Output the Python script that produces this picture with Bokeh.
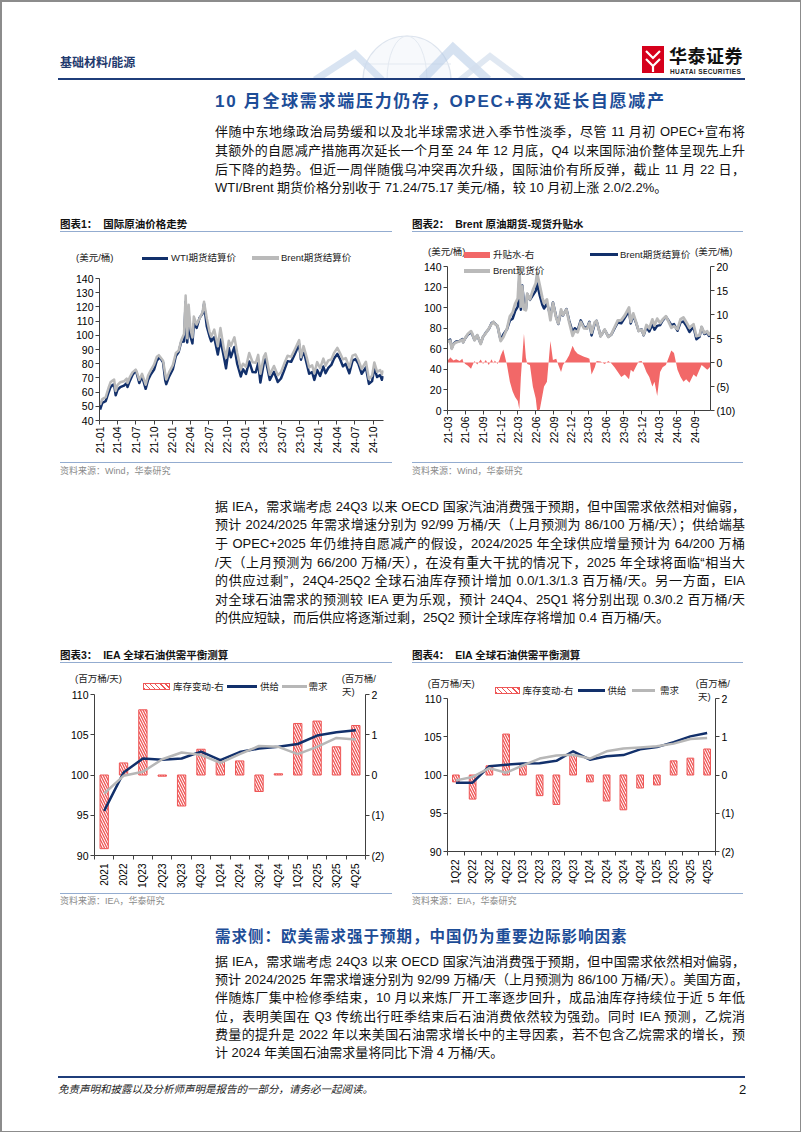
import pandas as pd
from math import pi
from bokeh.plotting import figure
from bokeh.models import (Range1d, LinearAxis, FixedTicker, DatetimeTickFormatter, Div,
                          ColumnDataSource)
from bokeh.layouts import column, row
from bokeh.embed import file_html
from bokeh.resources import INLINE

# ---------------------------------------------------------------- data
price_dates = [
    "2021-01-04", "2021-01-15", "2021-02-01", "2021-02-16", "2021-02-25", "2021-03-08", "2021-03-15",
    "2021-03-23", "2021-04-01", "2021-04-15", "2021-05-03", "2021-05-17", "2021-05-21", "2021-06-01",
    "2021-06-15", "2021-07-01", "2021-07-06", "2021-07-19", "2021-08-02", "2021-08-20", "2021-09-01",
    "2021-09-15", "2021-10-01", "2021-10-15", "2021-10-25", "2021-11-01", "2021-11-15", "2021-11-26",
    "2021-12-01", "2021-12-15",
    "2022-01-03", "2022-01-18", "2022-02-01", "2022-02-14", "2022-02-28", "2022-03-08", "2022-03-16",
    "2022-03-23", "2022-04-01", "2022-04-11", "2022-04-18", "2022-05-02", "2022-05-17", "2022-06-01",
    "2022-06-08", "2022-06-22", "2022-07-05", "2022-07-14", "2022-07-29", "2022-08-16", "2022-08-29",
    "2022-09-15", "2022-09-26", "2022-10-10", "2022-10-20", "2022-11-07", "2022-11-21", "2022-12-09",
    "2022-12-20",
    "2023-01-04", "2023-01-20", "2023-02-06", "2023-02-22", "2023-03-06", "2023-03-17", "2023-04-03",
    "2023-04-12", "2023-05-03", "2023-05-24", "2023-06-12", "2023-06-28", "2023-07-14", "2023-07-31",
    "2023-08-18", "2023-09-05", "2023-09-27", "2023-10-06", "2023-10-19", "2023-11-03", "2023-11-16",
    "2023-12-01", "2023-12-12", "2023-12-26",
    "2024-01-10", "2024-01-26", "2024-02-06", "2024-02-20", "2024-03-06", "2024-03-19", "2024-04-05",
    "2024-04-19", "2024-05-03", "2024-05-17", "2024-06-04", "2024-06-20", "2024-07-05", "2024-07-19",
    "2024-08-05", "2024-08-26", "2024-09-10", "2024-09-26", "2024-10-07", "2024-10-21", "2024-11-05",
    "2024-11-14", "2024-11-22",
]
wti = [
    47.6, 52.4, 53.6, 60.1, 63.5, 65.0, 65.4, 57.8, 61.5, 63.5, 64.5, 66.3, 63.6, 67.7, 72.1, 75.2,
    73.4, 66.4, 71.3, 62.3, 68.6, 72.6, 75.9, 82.3, 83.8, 84.1, 80.9, 68.2, 65.6, 70.9,
    76.1, 85.4, 88.2, 95.5, 95.7, 123.7, 95.0, 114.9, 99.3, 94.3, 108.2, 105.2, 112.4, 115.3, 122.1,
    106.2, 99.5, 95.8, 98.6, 86.5, 97.0, 85.1, 76.7, 91.1, 84.5, 91.8, 80.0, 71.0, 76.2,
    72.8, 81.6, 74.1, 74.0, 80.5, 66.7, 80.4, 83.3, 68.6, 74.3, 67.1, 69.6, 75.4, 81.8, 81.3, 86.7,
    93.7, 82.8, 89.4, 80.5, 72.9, 74.1, 68.6, 75.6,
    71.4, 78.0, 73.3, 77.0, 79.1, 83.5, 86.9, 83.1, 78.1, 79.9, 73.3, 82.2, 83.2, 80.1, 72.9, 77.4,
    65.8, 67.7, 77.1, 70.6, 72.0, 68.7, 71.24,
]
brent = [
    51.1, 55.1, 56.4, 63.3, 66.9, 68.2, 68.9, 60.8, 64.9, 67.0, 67.6, 69.5, 66.4, 70.3, 73.9, 75.8,
    74.5, 68.6, 72.9, 65.2, 71.6, 75.5, 79.3, 84.9, 86.0, 84.7, 82.1, 72.7, 68.9, 73.9,
    79.0, 87.5, 89.2, 96.5, 101.0, 128.0, 98.0, 121.6, 104.4, 98.5, 113.2, 107.6, 112.0, 116.3, 123.6,
    111.7, 102.8, 99.1, 104.0, 92.3, 105.1, 90.8, 84.1, 96.2, 92.4, 98.6, 87.5, 76.1, 80.0,
    77.8, 87.6, 81.0, 80.6, 86.2, 73.0, 84.9, 87.3, 72.3, 78.4, 71.8, 74.0, 79.9, 85.6, 84.8, 90.0,
    96.6, 84.6, 92.4, 84.9, 77.4, 78.9, 73.2, 81.1,
    76.8, 83.6, 78.6, 82.3, 83.0, 87.4, 91.2, 87.3, 83.0, 84.0, 77.5, 85.7, 86.5, 82.6, 76.3, 81.4,
    69.2, 71.6, 80.9, 74.3, 75.5, 72.6, 75.17,
]
# Brent futures minus spot (right axis of chart 2)
brent_spread = [
    0.3, 0.5, 0.4, 0.8, 0.6, 0.6, 1.1, 0.8, 0.4, 0.7, 0.3, 0.8, 0.2, -0.3, -0.7, -1.3,
    -0.8, 0.3, -0.4, 0.6, -0.3, 0.5, -0.5, 0.7, -0.2, 0.4, -0.3, 0.6, 1.4, 2.7,
    -0.5, -4.0, -6.0, -7.2, -8.0, -9.8, -3.0, 1.0, 6.0, 1.0, -0.3, -0.5, -5.0, -7.5, -10.0,
    -9.8, -7.0, -5.0, -4.0, 4.5, 0.5, 0.8, -0.5, -2.0, -0.5, 0.5, 1.5, 3.5, 2.5,
    1.8, 1.5, 1.2, 1.0, 0.8, -2.5, -1.0, 0.3, 0.2, -0.3, 0.3, -0.2, -1.0, -2.0, -3.0, -2.5,
    -3.5, -1.5, -2.0, -0.8, 0.2, 0.3, -0.5, -2.0,
    -3.0, -5.0, -4.0, -7.0, -2.0, -1.0, -0.5, 1.0, 2.5, 2.0, -1.5, -3.0, -4.0, -3.5, -4.2, -2.5,
    -3.0, -1.5, -0.5, -1.0, -1.5, -1.2, -0.8,
]
brent_spot = [f - s for f, s in zip(brent, brent_spread)]

iea_cats = ["2021", "2022", "1Q23", "2Q23", "3Q23", "4Q23", "1Q24", "2Q24", "3Q24", "4Q24",
            "1Q25", "2Q25", "3Q25", "4Q25"]
iea_stock = [-1.83, 0.30, 1.62, -0.03, -0.77, 0.64, 0.35, 0.35, -0.41, 0.03, 1.28, 1.34, 0.70, 1.23]
iea_supply = [95.55, 100.3, 102.05, 101.9, 102.05, 102.9, 101.85, 102.85, 103.3, 103.5, 103.85,
              104.9, 105.3, 105.55]
iea_demand = [97.7, 99.9, 100.4, 101.95, 102.8, 102.5, 101.5, 102.6, 103.6, 103.5, 102.6, 103.5,
              104.6, 104.4]

eia_cats = ["1Q22", "2Q22", "3Q22", "4Q22", "1Q23", "2Q23", "3Q23", "4Q23", "1Q24", "2Q24", "3Q24",
            "4Q24", "1Q25", "2Q25", "3Q25", "4Q25"]
eia_stock = [-0.18, -0.63, 0.24, 1.07, 0.25, -0.54, -0.77, 0.52, -0.18, -0.68, -0.91, -0.34, -0.26,
             0.37, 0.44, 0.68]
eia_supply = [99.0, 99.0, 101.15, 101.35, 101.5, 101.55, 101.85, 103.1, 102.0, 102.45, 102.6, 103.35,
              103.65, 104.3, 105.05, 105.5]
eia_demand = [99.3, 99.75, 100.9, 100.3, 101.25, 102.15, 102.55, 102.65, 102.15, 103.1, 103.45,
              103.6, 103.75, 104.1, 104.7, 104.85]

# ---------------------------------------------------------------- style
NAVY = "#12306b"
GRAY = "#bababa"
GRAY2 = "#b7b7b7"
RED = "#ee5656"
RED_AREA = "#f26868"
AXIS = "#404040"
NUM = "Liberation Sans"
BODY = "'Liberation Sans','Noto Sans CJK SC',sans-serif"
BLUE = "#1d4d97"
DARK = "#1f3d7a"
RULE = "#93acd0"
PAGE_W = 801


def base_fig(w, h, bl, br, bt, bb, **kw):
    p = figure(width=w, height=h, output_backend="svg", toolbar_location=None,
               min_border_left=bl, min_border_right=br, min_border_top=bt, min_border_bottom=bb, **kw)
    p.outline_line_color = None
    p.xgrid.grid_line_color = None
    p.ygrid.grid_line_color = None
    p.background_fill_alpha = 0
    p.border_fill_alpha = 0
    return p


def style_axis(ax, size="10.5px"):
    ax.axis_line_color = AXIS
    ax.axis_line_width = 1
    ax.major_tick_line_color = AXIS
    ax.major_tick_out = 4
    ax.major_tick_in = 0
    ax.minor_tick_line_color = None
    ax.major_label_text_font = NUM
    ax.major_label_text_font_size = size
    ax.major_label_text_color = "#000000"
    ax.major_label_standoff = 2


def date_ticks(start, end):
    return [int(t.value // 10**6) for t in pd.date_range(start, end, freq="3MS")]


fmt = dict(microseconds="%y-%m", milliseconds="%y-%m", seconds="%y-%m", minsec="%y-%m",
           minutes="%y-%m", hourmin="%y-%m", hours="%y-%m", days="%y-%m", months="%y-%m",
           years="%y-%m")

src = ColumnDataSource(dict(x=pd.to_datetime(price_dates), wti=wti, brent=brent,
                            spread=brent_spread, spot=brent_spot))

# ---------------------------------------------------------------- chart 1  (page y 240..458)
p1 = base_fig(400, 218, 99, 17, 38, 38, x_axis_type="datetime",
              x_range=Range1d(pd.Timestamp("2021-01-01"), pd.Timestamp("2024-11-22")),
              y_range=Range1d(40, 140))
p1.line("x", "wti", source=src, line_color=NAVY, line_width=2.5, line_join="round")
p1.line("x", "brent", source=src, line_color=GRAY, line_width=2.5, line_join="round")
p1.xaxis.ticker = FixedTicker(ticks=date_ticks("2021-01-01", "2024-10-01"))
p1.xaxis.formatter = DatetimeTickFormatter(**fmt)
p1.yaxis.ticker = FixedTicker(ticks=list(range(40, 141, 10)))
for ax in p1.xaxis + p1.yaxis:
    style_axis(ax)
p1.xaxis.major_label_orientation = pi / 2

# ---------------------------------------------------------------- chart 2
p2 = base_fig(PAGE_W - 400, 218, 47, PAGE_W - 710, 26, 48, x_axis_type="datetime",
              x_range=Range1d(pd.Timestamp("2021-03-01"), pd.Timestamp("2024-11-22")),
              y_range=Range1d(0, 140))
p2.extra_y_ranges = {"right": Range1d(-10, 20)}
p2.varea(x="x", y1=0, y2="spread", source=src, y_range_name="right",
         fill_color=RED_AREA, fill_alpha=1)
p2.line("x", "brent", source=src, line_color=NAVY, line_width=2.5, line_join="round")
p2.line("x", "spot", source=src, line_color=GRAY, line_width=2.8, line_join="round")
p2.xaxis.ticker = FixedTicker(ticks=date_ticks("2021-03-01", "2024-09-01"))
p2.xaxis.formatter = DatetimeTickFormatter(**fmt)
p2.yaxis.ticker = FixedTicker(ticks=list(range(0, 141, 20)))
rax2 = LinearAxis(y_range_name="right", ticker=FixedTicker(ticks=[-10, -5, 0, 5, 10, 15, 20]))
rax2.major_label_overrides = {-10: "(10)", -5: "(5)"}
p2.add_layout(rax2, "right")
for ax in p2.xaxis + p2.yaxis:
    style_axis(ax)
p2.xaxis.major_label_orientation = pi / 2


# ---------------------------------------------------------------- charts 3/4 (page y 668..890)
def balance_chart(w, h, bl, br, bt, bb, cats, stock, supply, demand, bar_w):
    xs = [i + 0.5 for i in range(len(cats))]
    p = base_fig(w, h, bl, br, bt, bb, x_range=Range1d(0, len(cats)), y_range=Range1d(90, 110))
    p.extra_y_ranges = {"right": Range1d(-2, 2)}
    p.vbar(x=xs, top=stock, bottom=0, width=bar_w, y_range_name="right",
           fill_color="white", line_color=RED, line_width=1,
           hatch_pattern="left_diagonal_line", hatch_color=RED, hatch_scale=5, hatch_weight=1.3)
    p.line(xs, supply, line_color=NAVY, line_width=2.5, line_join="round")
    p.line(xs, demand, line_color=GRAY2, line_width=2.5, line_join="round")
    p.xaxis.ticker = FixedTicker(ticks=xs, minor_ticks=list(range(0, len(cats) + 1)))
    p.xaxis.major_label_overrides = {x: c for x, c in zip(xs, cats)}
    p.yaxis.ticker = FixedTicker(ticks=[90, 95, 100, 105, 110])
    rax = LinearAxis(y_range_name="right", ticker=FixedTicker(ticks=[-2, -1, 0, 1, 2]))
    rax.major_label_overrides = {-2: "(2)", -1: "(1)"}
    p.add_layout(rax, "right")
    for ax in p.xaxis + p.yaxis:
        style_axis(ax)
    xa = p.xaxis[0]
    xa.major_tick_line_color = None
    xa.major_tick_out = 0
    xa.minor_tick_line_color = AXIS
    xa.minor_tick_out = 4
    xa.minor_tick_in = 0
    xa.major_label_standoff = 4
    xa.major_label_orientation = pi / 2
    xa.major_label_text_font_size = "10px"
    return p


p3 = balance_chart(400, 222, 94, 35, 26, 34, iea_cats, iea_stock, iea_supply, iea_demand, 0.43)
p4 = balance_chart(PAGE_W - 400, 222, 47, PAGE_W - 715, 30, 39, eia_cats, eia_stock, eia_supply,
                   eia_demand, 0.4)


# ---------------------------------------------------------------- page text (HTML)
def T(x, yc, text, size, oy, color="#1a1a1a", weight="normal", extra="", lh=None):
    lh = lh if lh else round(size * 1.45)
    top = yc - oy - lh / 2
    return (f'<div style="position:absolute;z-index:5;left:{x:.1f}px;top:{top:.1f}px;height:{lh}px;'
            f'line-height:{lh}px;font-size:{size}px;font-weight:{weight};color:{color};'
            f'font-family:{BODY};white-space:nowrap;{extra}">{text}</div>')


def BOX(x1, x2, y, th, oy, css):
    return (f'<div style="position:absolute;z-index:5;left:{x1:.1f}px;top:{y - oy - th / 2:.1f}px;'
            f'width:{x2 - x1:.1f}px;height:{th}px;{css}"></div>')


def HL(x1, x2, y, th, color, oy):
    return BOX(x1, x2, y, th, oy, f"background:{color};")


def VL(x, y1, y2, th, color, oy):
    return (f'<div style="position:absolute;z-index:6;left:{x:.1f}px;top:{y1 - oy:.1f}px;'
            f'width:{th}px;height:{y2 - y1:.1f}px;background:{color};"></div>')


def PARA(lines, ys, oy, x=215, width=530, size=13):
    out = []
    for i, (t, y) in enumerate(zip(lines, ys)):
        al = "left" if i == len(lines) - 1 else "justify"
        out.append(T(x, y, t, size, oy, color="#111111",
                     extra=f"width:{width}px;text-align:{al};text-align-last:{al};", lh=18))
    return "".join(out)


HATCH = (f"box-sizing:border-box;border:1px solid {RED};"
         f"background:repeating-linear-gradient(45deg,{RED} 0px,{RED} 1.2px,#ffffff 1.2px,#ffffff 3.6px);")


def LEG(x1, x2, yc, label, oy, css, th, lx):
    return BOX(x1, x2, yc, th, oy, css) + T(lx, yc, label, 9.5, oy, color="#222222")


def UNIT(x, yc, text, oy):
    return T(x, yc, text, 9.5, oy, color="#222222")


def DIV(html, h):
    return Div(text=f'<div style="position:relative;width:{PAGE_W}px;height:{h}px;overflow:visible;">'
                    f'{html}</div>', width=PAGE_W, height=h, margin=0,
               styles={"overflow": "visible", "z-index": "5"})


para1 = [
    "伴随中东地缘政治局势缓和以及北半球需求进入季节性淡季，尽管 11 月初 OPEC+宣布将",
    "其额外的自愿减产措施再次延长一个月至 24 年 12 月底，Q4 以来国际油价整体呈现先上升",
    "后下降的趋势。但近一周伴随俄乌冲突再次升级，国际油价有所反弹，截止 11 月 22 日，",
    "WTI/Brent 期货价格分别收于 71.24/75.17 美元/桶，较 10 月初上涨 2.0/2.2%。",
]
para2 = [
    "据 IEA，需求端考虑 24Q3 以来 OECD 国家汽油消费强于预期，但中国需求依然相对偏弱，",
    "预计 2024/2025 年需求增速分别为 92/99 万桶/天（上月预测为 86/100 万桶/天）；供给端基",
    "于 OPEC+2025 年仍维持自愿减产的假设，2024/2025 年全球供应增量预计为 64/200 万桶",
    "/天（上月预测为 66/200 万桶/天），在没有重大干扰的情况下，2025 年全球将面临“相当大",
    "的供应过剩”，24Q4-25Q2 全球石油库存预计增加 0.0/1.3/1.3 百万桶/天。另一方面，EIA",
    "对全球石油需求的预测较 IEA 更为乐观，预计 24Q4、25Q1 将分别出现 0.3/0.2 百万桶/天",
    "的供应短缺，而后供应将逐渐过剩，25Q2 预计全球库存将增加 0.4 百万桶/天。",
]
para3 = [
    "据 IEA，需求端考虑 24Q3 以来 OECD 国家汽油消费强于预期，但中国需求依然相对偏弱，",
    "预计 2024/2025 年需求增速分别为 92/99 万桶/天（上月预测为 86/100 万桶/天）。美国方面，",
    "伴随炼厂集中检修季结束，10 月以来炼厂开工率逐步回升，成品油库存持续位于近 5 年低",
    "位，表明美国在 Q3 传统出行旺季结束后石油消费依然较为强劲。同时 IEA 预测，乙烷消",
    "费量的提升是 2022 年以来美国石油需求增长中的主导因素，若不包含乙烷需求的增长，预",
    "计 2024 年美国石油需求量将同比下滑 4 万桶/天。",
]

# ---- top block: page y 0 .. 240
oy = 0
watermark = (
    '<svg style="position:absolute;left:300px;top:30px;" width="240" height="50" '
    'xmlns="http://www.w3.org/2000/svg">'
    '<circle cx="107" cy="50" r="44" fill="#f7f9fc" stroke="#dde4ee" stroke-width="1.2"/>'
    '<ellipse cx="107" cy="50" rx="20" ry="44" fill="none" stroke="#e3e9f1" stroke-width="1"/>'
    '<line x1="63" y1="34" x2="151" y2="34" stroke="#e3e9f1" stroke-width="1"/>'
    '<polyline points="15,50 55,24 82,50" fill="none" stroke="#c9d9ed" stroke-width="7" opacity="0.7"/>'
    '<polyline points="122,50 153,18 188,50" fill="none" stroke="#adc5e4" stroke-width="9" opacity="0.5"/>'
    '<polyline points="160,50 190,26 222,50" fill="none" stroke="#d3deed" stroke-width="6" opacity="0.7"/>'
    '</svg>'
)
logo = (
    '<svg style="position:absolute;left:642px;top:46px;" width="22" height="27" '
    'xmlns="http://www.w3.org/2000/svg">'
    '<rect x="0" y="0" width="22" height="27" fill="#d6001c"/>'
    '<polyline points="4,5 11,12 18,5" fill="none" stroke="white" stroke-width="2.2"/>'
    '<polyline points="4,13 11,20 18,13" fill="none" stroke="white" stroke-width="2.2"/>'
    '<line x1="11" y1="20" x2="11" y2="26" stroke="white" stroke-width="2.2"/>'
    '</svg>'
)
top_html = "".join([
    watermark,
    T(60, 63, "基础材料/能源", 12, oy, color="#1f3a6e", weight="bold"),
    logo,
    T(669, 57, "华泰证券", 18, oy, color="#111111", weight="bold", extra="letter-spacing:0.5px;"),
    T(670, 71, "HUATAI SECURITIES", 6.5, oy, color="#222222", weight="bold",
      extra="letter-spacing:0.4px;"),
    HL(58, 745, 79, 2.5, DARK, oy),
    T(215, 101.5, "10 月全球需求端压力仍存，OPEC+再次延长自愿减产", 17, oy, color=BLUE,
      weight="bold", extra="letter-spacing:1.7px;"),
    PARA(para1, [132, 150.5, 169.5, 188], oy),
    T(60, 224, "图表1：&nbsp;&nbsp;国际原油价格走势", 10.5, oy, color="#111111", weight="bold"),
    T(412, 224, "图表2：&nbsp;&nbsp;Brent 原油期货-现货升贴水", 10.5, oy, color="#111111",
      weight="bold"),
    HL(60, 392, 231, 1, RULE, oy),
    HL(412, 743, 231, 1, RULE, oy),
])
div_top = DIV(top_html, 240)

# ---- middle block: page y 458 .. 668 (also carries legends of charts 1/2, drawn above it)
oy = 458
mid_html = "".join([
    UNIT(76, 258, "(美元/桶)", oy),
    LEG(142, 168, 258, "WTI期货结算价", oy, f"background:{NAVY};", 3, 171),
    LEG(251.5, 279, 258, "Brent期货结算价", oy, f"background:{GRAY};", 3.5, 281),
    UNIT(428, 252, "(美元/桶)", oy),
    UNIT(695, 252, "(美元/桶)", oy),
    LEG(464, 490, 255, "升贴水-右", oy, f"background:{RED_AREA};", 6, 493),
    LEG(590, 618, 254.5, "Brent期货结算价", oy, f"background:{NAVY};", 3, 620),
    LEG(464, 490, 271, "Brent现货价", oy, f"background:{GRAY};", 3.5, 493),
    HL(60, 392, 462.7, 1, RULE, oy),
    HL(412, 743, 462.7, 1, RULE, oy),
    T(60, 471.5, "资料来源：Wind，华泰研究", 9, oy, color="#8a8a8a"),
    T(412, 471.5, "资料来源：Wind，华泰研究", 9, oy, color="#8a8a8a"),
    PARA(para2, [506.5, 525, 544, 562.5, 581.3, 600, 618.3], oy),
    T(60, 655, "图表3：&nbsp;&nbsp;IEA 全球石油供需平衡测算", 10.5, oy, color="#111111", weight="bold"),
    T(412, 655, "图表4：&nbsp;&nbsp;EIA 全球石油供需平衡测算", 10.5, oy, color="#111111", weight="bold"),
    HL(60, 392, 662.7, 1, RULE, oy),
    HL(412, 743, 662.7, 1, RULE, oy),
])
div_mid = DIV(mid_html, 210)

# ---- bottom block: page y 890 .. 1132 (also carries legends of charts 3/4 and page frame)
oy = 890
bot_html = "".join([
    UNIT(75, 679.3, "(百万桶/天)", oy),
    UNIT(341.7, 679.3, "(百万桶/", oy),
    UNIT(342, 691.7, "天)", oy),
    LEG(143, 170, 686.7, "库存变动-右", oy, HATCH, 7, 173),
    LEG(227, 257, 686.7, "供给", oy, f"background:{NAVY};", 3, 260),
    LEG(282, 307, 686.7, "需求", oy, f"background:{GRAY2};", 3, 308.5),
    UNIT(427.7, 684.3, "(百万桶/天)", oy),
    UNIT(695.7, 684.3, "(百万桶/", oy),
    UNIT(698, 696.7, "天)", oy),
    LEG(495, 520, 690.5, "库存变动-右", oy, HATCH, 7, 522.5),
    LEG(578, 605, 690.5, "供给", oy, f"background:{NAVY};", 3, 607.5),
    LEG(632, 655, 690.5, "需求", oy, f"background:{GRAY2};", 3, 660),
    HL(60, 392, 893, 1, RULE, oy),
    HL(412, 743, 893, 1, RULE, oy),
    T(60, 901, "资料来源：IEA，华泰研究", 9, oy, color="#8a8a8a"),
    T(412, 901, "资料来源：EIA，华泰研究", 9, oy, color="#8a8a8a"),
    T(215, 936.7, "需求侧：欧美需求强于预期，中国仍为重要边际影响因素", 15.5, oy, color=BLUE,
      weight="bold", extra="letter-spacing:1px;"),
    PARA(para3, [961.7, 980, 998.3, 1016.7, 1035, 1053.3], oy),
    HL(58, 745, 1077.3, 2, DARK, oy),
    T(58, 1089, "免责声明和披露以及分析师声明是报告的一部分，请务必一起阅读。", 10.5, oy,
      color="#222222", extra="font-style:italic;"),
    T(739, 1089, "2", 13, oy, color="#111111"),
    HL(0, PAGE_W, 0.75, 1.5, "#8c8c8c", oy),
    HL(0, PAGE_W, 1131.25, 1.5, "#8c8c8c", oy),
    VL(0, 0, 1132, 1.5, "#8c8c8c", oy),
    VL(PAGE_W - 1.5, 0, 1132, 1.5, "#8c8c8c", oy),
])
div_bot = DIV(bot_html, 242)

# each figure wrapped on its own so that the row does not align their frames
page = column(div_top,
              row(column(p1), column(p2)),
              div_mid,
              row(column(p3), column(p4)),
              div_bot)

open("out.html", "w").write(file_html(page, INLINE))
